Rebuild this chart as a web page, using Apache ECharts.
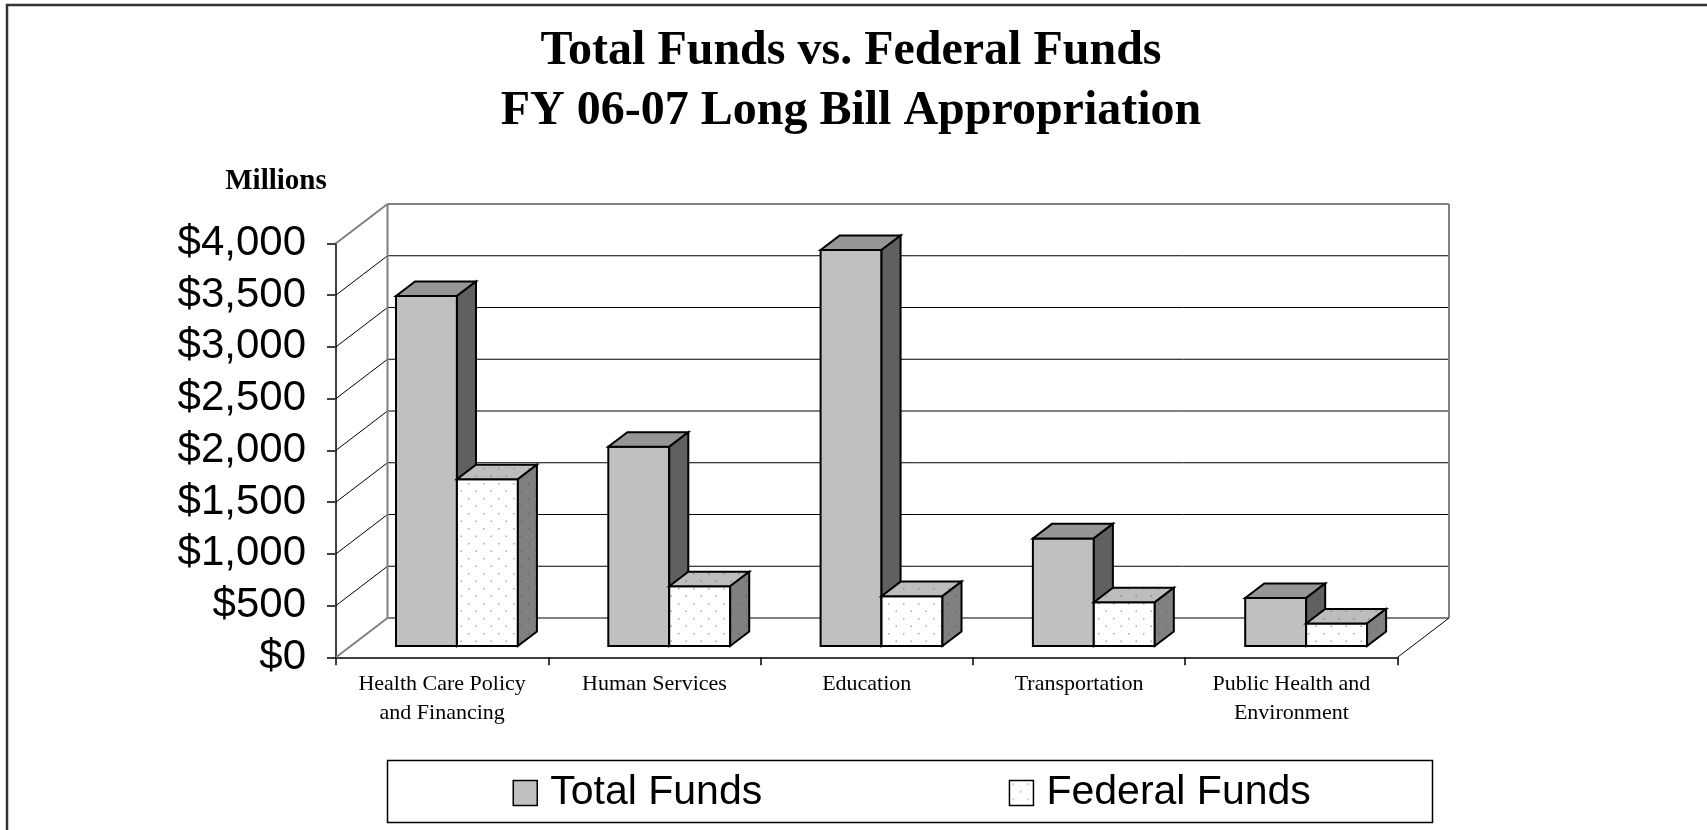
<!DOCTYPE html>
<html>
<head>
<meta charset="utf-8">
<title>Total Funds vs. Federal Funds</title>
<script src="https://cdn.jsdelivr.net/npm/echarts@6/dist/echarts.min.js"></script>
<style>
  html, body { margin: 0; padding: 0; background: #fff; }
  #chart { width: 1707px; height: 830px; }
</style>
</head>
<body>
<div id="chart"></div>
<script>
// Appropriations by department, in millions of dollars
const categories = [
  'Health Care Policy\nand Financing',
  'Human Services',
  'Education',
  'Transportation',
  'Public Health and\nEnvironment'
];
const totalFunds = [3382, 1925, 3826, 1040, 464];
const federalFunds = [1611, 577, 482, 422, 218];
const yTicks = [0, 500, 1000, 1500, 2000, 2500, 3000, 3500, 4000];
const seriesNames = ['Total Funds', 'Federal Funds'];

// Oblique projection of the chart box depth
const DEPTH = { dx: 51.5, dy: -39.3 };
const BAR_FRONT = 0.287;   // how far into the box the bars start
const BAR_DEPTH = 0.37;    // bar thickness as a share of box depth
const BAR_FRAC = 0.287;    // each bar's width as a share of the category band

function dotted(bg, dot) {
  const c = document.createElement('canvas');
  c.width = 15; c.height = 15;
  const g = c.getContext('2d');
  g.fillStyle = bg; g.fillRect(0, 0, 15, 15);
  g.fillStyle = dot;
  g.fillRect(3, 3, 1.5, 1.5);
  g.fillRect(10.5, 10.5, 1.5, 1.5);
  return { image: c, repeat: 'repeat' };
}

const faces = [
  { front: '#C0C0C0', top: '#969696', side: '#606060' },
  { front: dotted('#FFFFFF', '#A8A8A8'), top: dotted('#BDBDBD', '#8C8C8C'), side: dotted('#808080', '#666666') }
];

function barRenderer(k) {
  return function (params, api) {
    const i = api.value(0);
    const v = api.value(1);
    const top = api.coord([i, v]);
    const base = api.coord([i, 0]);
    const w = api.size([1, 0])[0] * BAR_FRAC;
    const fx = DEPTH.dx * BAR_FRONT, fy = DEPTH.dy * BAR_FRONT;
    const bx = DEPTH.dx * BAR_DEPTH, by = DEPTH.dy * BAR_DEPTH;
    const x0 = base[0] + (k === 0 ? -w : 0) + fx;
    const x1 = x0 + w;
    const yb = base[1] + fy;
    const yt = top[1] + fy;
    const f = faces[k];
    const edge = { stroke: '#000', lineWidth: 2, lineJoin: 'miter' };
    const poly = (pts, fill) => ({
      type: 'polygon',
      shape: { points: pts },
      style: Object.assign({ fill: fill }, edge)
    });
    return {
      type: 'group',
      children: [
        poly([[x0, yb], [x1, yb], [x1, yt], [x0, yt]], f.front),
        poly([[x0, yt], [x1, yt], [x1 + bx, yt + by], [x0 + bx, yt + by]], f.top),
        poly([[x1, yb], [x1 + bx, yb + by], [x1 + bx, yt + by], [x1, yt]], f.side)
      ]
    };
  };
}

// Back wall, side wall and floor outline of the 3-D box
function frameRenderer(params, api) {
  const cs = params.coordSys;
  const xL = cs.x, xR = cs.x + cs.width;
  const dx = DEPTH.dx, dy = DEPTH.dy;
  const gray = { stroke: '#808080', lineWidth: 2 };
  const thin = { stroke: '#000', lineWidth: 1 };
  const line = (x1, y1, x2, y2, st) => ({
    type: 'line', shape: { x1: x1, y1: y1, x2: x2, y2: y2 }, style: Object.assign({}, st)
  });
  const children = [];
  yTicks.forEach(function (t, k) {
    const y = api.coord([0, t])[1];
    const edge = (k === 0 || k === yTicks.length - 1);
    children.push(line(xL + dx, y + dy, xR + dx, y + dy, edge ? gray : thin));
    children.push(line(xL, y, xL + dx, y + dy, edge ? gray : thin));
  });
  const y0 = api.coord([0, yTicks[0]])[1];
  const yN = api.coord([0, yTicks[yTicks.length - 1]])[1];
  children.push(line(xL + dx, y0 + dy, xL + dx, yN + dy, gray));
  children.push(line(xR + dx, y0 + dy, xR + dx, yN + dy, gray));
  children.push(line(xR, y0, xR + dx, y0 + dy, thin));
  return { type: 'group', children: children };
}

const chart = echarts.init(document.getElementById('chart'), null, { renderer: 'canvas' });

chart.setOption({
  backgroundColor: '#fff',
  animation: false,
  graphic: [
    { type: 'rect', shape: { x: 7, y: 5, width: 1740, height: 860 },
      style: { fill: 'none', stroke: '#333', lineWidth: 2.5 } },
    { type: 'text', x: 851, y: 52,
      style: { text: 'Total Funds vs. Federal Funds', fontFamily: 'Liberation Serif', fontWeight: 'bold',
               fontSize: 48, fill: '#000', align: 'center', verticalAlign: 'middle' } },
    { type: 'text', x: 851, y: 112,
      style: { text: 'FY 06-07 Long Bill Appropriation', fontFamily: 'Liberation Serif', fontWeight: 'bold',
               fontSize: 48, fill: '#000', align: 'center', verticalAlign: 'middle' } },
    { type: 'text', x: 276, y: 182,
      style: { text: 'Millions', fontFamily: 'Liberation Serif', fontWeight: 'bold',
               fontSize: 29, fill: '#000', align: 'center', verticalAlign: 'middle' } },
    { type: 'rect', shape: { x: 387.5, y: 760.5, width: 1045, height: 62 },
      style: { fill: 'none', stroke: '#000', lineWidth: 1.5 } }
  ],
  legend: {
    data: [
      { name: seriesNames[0], itemStyle: { color: '#C0C0C0' } },
      { name: seriesNames[1], itemStyle: { color: dotted('#FFFFFF', '#A8A8A8') } }
    ],
    left: 512.5, top: 772.5,
    padding: 0,
    icon: 'rect',
    itemWidth: 24, itemHeight: 25, itemGap: 246.5,
    itemStyle: { borderColor: '#000', borderWidth: 1.5 },
    selectedMode: false,
    textStyle: { fontFamily: 'Liberation Sans', fontSize: 41, color: '#000', padding: [0, 0, 0, 8] }
  },
  grid: { left: 336, top: 243.3, width: 1061.5, height: 414, containLabel: false },
  xAxis: {
    type: 'category',
    data: categories,
    boundaryGap: true,
    axisLine: { show: true, lineStyle: { color: '#000', width: 1.5 } },
    axisTick: { show: true, length: 8, lineStyle: { color: '#000', width: 1.5 } },
    axisLabel: { margin: 12, fontFamily: 'Liberation Serif', fontSize: 22, lineHeight: 29, color: '#000', interval: 0 },
    splitLine: { show: false }
  },
  yAxis: {
    type: 'value',
    min: yTicks[0], max: yTicks[yTicks.length - 1], interval: yTicks[1] - yTicks[0],
    axisLine: { show: true, lineStyle: { color: '#404040', width: 2 } },
    axisTick: { show: true, length: 9, lineStyle: { color: '#404040', width: 2 } },
    axisLabel: {
      margin: 30, fontFamily: 'Liberation Sans', fontSize: 42, color: '#000',
      formatter: function (v) { return '$' + v.toLocaleString('en-US'); }
    },
    splitLine: { show: false }
  },
  series: [
    { type: 'custom', name: 'frame', silent: true, renderItem: frameRenderer,
      data: [[0, 0]], encode: { x: 0, y: 1 }, z: 1 },
    { type: 'custom', name: seriesNames[0], renderItem: barRenderer(0),
      itemStyle: { color: '#C0C0C0' },
      data: totalFunds.map((v, i) => [i, v]), encode: { x: 0, y: 1 }, z: 2 },
    { type: 'custom', name: seriesNames[1], renderItem: barRenderer(1),
      itemStyle: { color: '#FFFFFF' },
      data: federalFunds.map((v, i) => [i, v]), encode: { x: 0, y: 1 }, z: 3 }
  ]
});
</script>
</body>
</html>
